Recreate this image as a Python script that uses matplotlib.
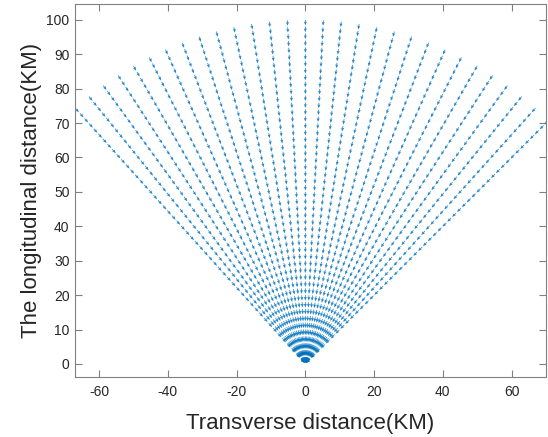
import numpy as np
import matplotlib
matplotlib.use("Agg")
import matplotlib.pyplot as plt

plt.rcParams['font.family'] = ['Liberation Sans', 'DejaVu Sans']
plt.rcParams['axes.unicode_minus'] = False

# Beam azimuths (degrees from the longitudinal axis, positive to the right)
angles_deg = [-42, -39, -36, -33, -30, -27, -24, -21, -18, -15, -12, -9, -6, -3,
              0, 3, 6, 9, 12, 15, 18, 21, 24, 27, 30, 33, 36, 39, 42, 45]
# Range gates along each beam (km)
range_step_km = 2.0
max_range_km = 100.0
ranges_km = np.arange(max_range_km, 0, -range_step_km)
# Arrow magnitude (km, toward the radar)
arrow_len_km = 1.6

x_ticks = [-60, -40, -20, 0, 20, 40, 60]
y_ticks = [0, 10, 20, 30, 40, 50, 60, 70, 80, 90, 100]
x_lim = (-67, 70)
y_lim = (-3.8, 104.6)

th = np.deg2rad(np.array(angles_deg))
R, TH = np.meshgrid(ranges_km, th)
X = R * np.sin(TH)
Y = R * np.cos(TH)
U = -arrow_len_km * np.sin(TH)
V = -arrow_len_km * np.cos(TH)

fig = plt.figure(figsize=(5.48, 4.37), dpi=100)
ax = fig.add_axes([75/548, 1 - 377/437, (546-75)/548, (377-4)/437])

ax.quiver(X.ravel(), Y.ravel(), U.ravel(), V.ravel(),
          angles='xy', scale_units='xy', scale=1,
          color='#0072BD', alpha=0.85,
          units='dots', width=0.75, headwidth=4, headlength=5,
          headaxislength=4.5, minlength=0.2, zorder=2)

ax.set_xlim(*x_lim)
ax.set_ylim(*y_lim)
ax.set_xticks(x_ticks)
ax.set_yticks(y_ticks)
ax.set_xticklabels([str(v) for v in x_ticks])
ax.set_yticklabels([str(v) for v in y_ticks])

for sp in ax.spines.values():
    sp.set_color('#808080')
    sp.set_linewidth(0.8)
ax.tick_params(direction='in', length=5, width=0.8, color='#808080',
               labelcolor='#262626', labelsize=10,
               top=True, right=True)
ax.tick_params(axis='x', pad=6)
ax.tick_params(axis='y', pad=4)

ax.set_xlabel('Transverse distance(KM)', fontsize=16, color='#262626', labelpad=10)
ax.set_ylabel('The longitudinal distance(KM)', fontsize=16, color='#262626', labelpad=3)

fig.savefig('out.png', dpi=100)
